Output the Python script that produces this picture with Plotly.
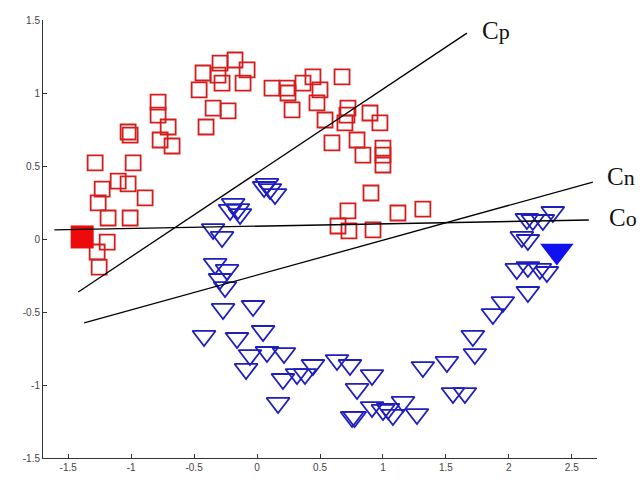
import plotly.graph_objects as go

# ---- data ----
red_x = [-1.286, -0.984, -1.024, -1.008, -0.786, -0.786, -0.706, -0.770, -0.675,
         -1.103, -1.024, -1.230, -0.889, -1.262, -1.183, -1.008, -1.190, -1.270, -1.254,
         -0.460, -0.429, -0.294, -0.310, -0.278, -0.175, -0.079, -0.111, -0.349, -0.230, -0.405,
         0.119, 0.238, 0.246, 0.278, 0.365, 0.444, 0.500, 0.476, 0.675, 0.540, 0.595,
         0.722, 0.714, 0.698, 0.794, 0.897, 0.976, 0.841, 1.000, 1.000, 1.000,
         0.905, 0.722, 0.643, 0.730, 0.921, 1.119, 1.317]
red_y = [0.521, 0.521, 0.733, 0.712, 0.938, 0.849, 0.767, 0.678, 0.637,
         0.397, 0.377, 0.342, 0.281, 0.247, 0.144, 0.144, -0.021, -0.089, -0.192,
         1.021, 1.137, 1.205, 1.123, 1.068, 1.226, 1.158, 1.068, 0.897, 0.877, 0.767,
         1.034, 1.034, 1.000, 0.884, 1.068, 1.110, 1.021, 0.932, 1.110, 0.815, 0.658,
         0.897, 0.849, 0.795, 0.678, 0.863, 0.795, 0.575, 0.623, 0.575, 0.507,
         0.315, 0.192, 0.089, 0.055, 0.062, 0.178, 0.205]

blue_x = [0.079, 0.103, 0.143, 0.056, -0.190, -0.151, -0.135, -0.214, -0.349, -0.278,
          -0.333, -0.238, -0.294, -0.254, -0.270, -0.032, -0.421, -0.159, 0.048, -0.056,
          0.079, 0.214, -0.087, 0.444, 0.381, 0.317, 0.206, 0.167, 0.635, 0.738,
          0.913, 0.794, 0.913, 0.775, 0.755, 1.040, 1.079, 1.159, 1.270, 1.000,
          1.317, 1.508, 1.556, 1.651, 1.714, 1.730, 1.873, 1.952, 2.063, 2.151,
          2.246, 2.302, 2.151, 2.103, 2.151, 2.143, 2.190, 2.270, 2.349]
blue_y = [0.377, 0.342, 0.308, 0.356, 0.240, 0.205, 0.171, 0.199, 0.068, 0.014,
          -0.171, -0.212, -0.274, -0.329, -0.479, -0.459, -0.664, -0.678, -0.630, -0.795,
          -0.774, -0.781, -0.890, -0.863, -0.925, -0.925, -0.959, -1.123, -0.829, -0.863,
          -0.932, -1.027, -1.151, -1.219, -1.219, -1.164, -1.205, -1.116, -1.199, -1.171,
          -0.877, -0.842, -1.055, -1.055, -0.664, -0.788, -0.514, -0.432, -0.205, -0.192,
          -0.205, -0.226, -0.363, 0.014, -0.007, 0.137, 0.130, 0.130, 0.185]

red_sel_x = [-1.389]
red_sel_y = [0.014]
blue_sel_x = [2.381]
blue_sel_y = [-0.082]

line_names = ["Cp", "Cn", "Co"]
line_x = [[-1.42, 1.667], [-1.373, 2.667], [-1.61, 2.635]]
line_y = [[-0.363, 1.41], [-0.575, 0.39], [0.062, 0.13]]

x_ticks = [-1.5, -1, -0.5, 0, 0.5, 1, 1.5, 2, 2.5]
x_ticktext = ["-1.5", "-1", "-0.5", "0", "0.5", "1", "1.5", "2", "2.5"]
y_ticks = [-1.5, -1, -0.5, 0, 0.5, 1, 1.5]
y_ticktext = ["-1.5", "-1", "-0.5", "0", "0.5", "1", "1.5"]

# ---- figure ----
RED = "#d41c1c"
BLUE = "#1e1ebe"

fig = go.Figure()
fig.add_trace(go.Scatter(x=red_x, y=red_y, mode="markers",
                         marker=dict(symbol="square-open", size=15, color=RED,
                                     line=dict(width=1.8, color=RED))))
fig.add_trace(go.Scatter(x=blue_x, y=blue_y, mode="markers",
                         marker=dict(symbol="triangle-down-open", size=20, color=BLUE,
                                     line=dict(width=1.8, color=BLUE))))
fig.add_trace(go.Scatter(x=red_sel_x, y=red_sel_y, mode="markers",
                         marker=dict(symbol="square", size=23, color="#ee0a0a")))
fig.add_trace(go.Scatter(x=blue_sel_x, y=blue_sel_y, mode="markers",
                         marker=dict(symbol="triangle-down", size=29, color="#1010f0")))
for nm, lx, ly in zip(line_names, line_x, line_y):
    fig.add_trace(go.Scatter(x=lx, y=ly, mode="lines", name=nm,
                             line=dict(color="black", width=1.3)))

# label placement (paper coordinates)
label_pos = {"Cp": (0.789, 0.977), "Cn": (1.0144, 0.6416), "Co": (1.018, 0.548)}
for nm in line_names:
    ax, ay = label_pos[nm]
    fig.add_annotation(x=ax, y=ay, xref="paper", yref="paper", showarrow=False,
                       text="C<span style='font-size:22px'>%s</span>" % nm[1],
                       xanchor="left", yanchor="middle",
                       font=dict(family="Liberation Serif", size=25, color="#111"))

axis_common = dict(showgrid=False, zeroline=False, showline=True, linecolor="#333",
                   linewidth=1, ticks="inside", ticklen=4, tickcolor="#333",
                   tickfont=dict(family="Liberation Sans", size=10, color="#444"))
fig.update_xaxes(range=[-1.7, 2.7], tickvals=x_ticks, ticktext=x_ticktext, **axis_common)
fig.update_yaxes(range=[-1.5, 1.5], tickvals=y_ticks, ticktext=y_ticktext, **axis_common)
fig.update_layout(width=640, height=493, showlegend=False,
                  margin=dict(l=43, r=43, t=20, b=35),
                  plot_bgcolor="white", paper_bgcolor="white")
fig.write_html("out.html", config={"displayModeBar": False},
               post_script="document.body.style.margin='0';document.body.style.overflow='hidden';")
